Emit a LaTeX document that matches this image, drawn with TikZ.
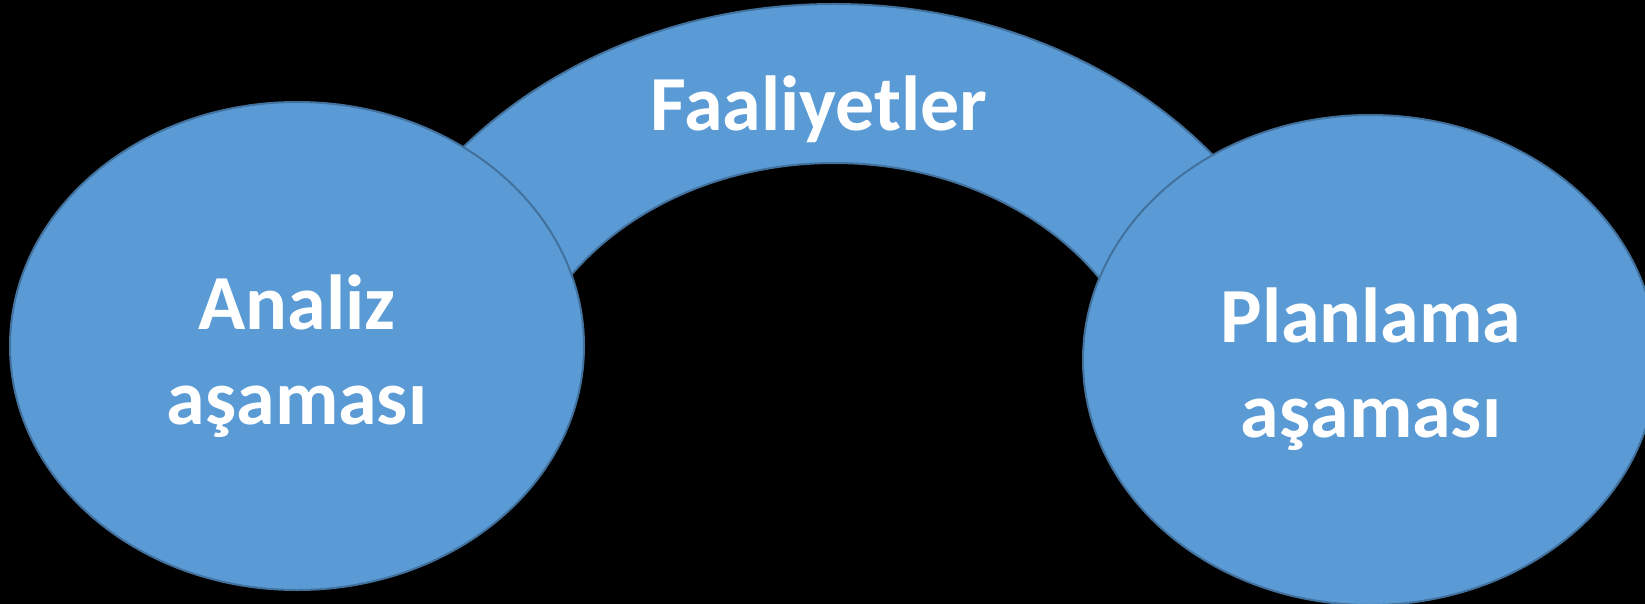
\documentclass[tikz,border=0pt]{standalone}
\usepackage{fontspec}
\setmainfont{Carlito}
\usetikzlibrary{shapes.geometric}
\definecolor{fillblue}{HTML}{5B9BD5}
\definecolor{edgeblue}{HTML}{41719C}
\tikzset{
  phase/.style={ellipse, draw=edgeblue, fill=fillblue, line width=2pt, inner sep=0pt, minimum width=574pt, minimum height=488pt},
  lbl/.style={text=white, font=\bfseries\fontsize{78}{95}\selectfont, align=center, inner sep=0pt},
}
\begin{document}
\begin{tikzpicture}[x=1pt,y=-1pt]
\fill[black] (0,0) rectangle (1645,604);
\useasboundingbox (0,0) rectangle (1645,604);
% arch
\begin{scope}
\clip (0,0) rectangle (1645,330);
\path[draw=edgeblue, fill=fillblue, line width=2pt, even odd rule]
  (834,424) ellipse [x radius=493, y radius=420]
  (834,424) ellipse [x radius=320, y radius=261];
\end{scope}
\node[lbl, anchor=base] (faal) at (819,131) {Faaliyetler};
\node[phase] (analiz) at (297,346) {};
\node[phase, minimum height=490pt] (plan) at (1370,360) {};
\node[lbl] (analizt) at (297,356) {Analiz\\aşaması};
\node[lbl] (plant) at (1371,369) {Planlama\\aşaması};
\end{tikzpicture}
\end{document}
